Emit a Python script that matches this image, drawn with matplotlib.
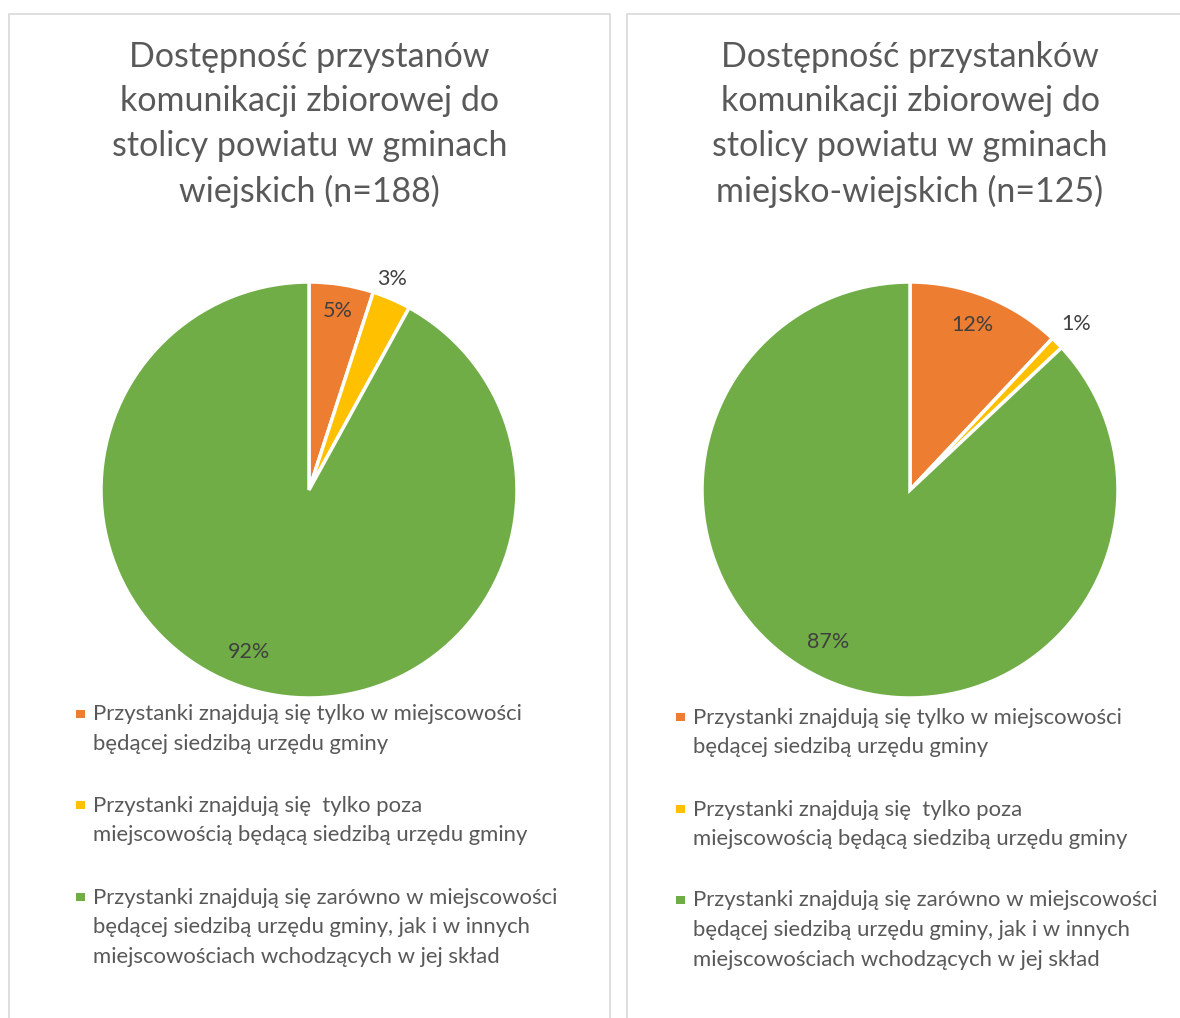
import matplotlib
matplotlib.use("Agg")
import matplotlib.pyplot as plt
from matplotlib.patches import Rectangle
import numpy as np

plt.rcParams['font.family'] = ['Lato', 'DejaVu Sans']

categories = [
    "Przystanki znajdują się tylko w miejscowości\nbędącej siedzibą urzędu gminy",
    "Przystanki znajdują się  tylko poza\nmiejscowością będącą siedzibą urzędu gminy",
    "Przystanki znajdują się zarówno w miejscowości\nbędącej siedzibą urzędu gminy, jak i w innych\nmiejscowościach wchodzących w jej skład",
]
colors = ["#ED7D31", "#FFC000", "#70AD47"]

title_left = "Dostępność przystanów\nkomunikacji zbiorowej do\nstolicy powiatu w gminach\nwiejskich (n=188)"
title_right = "Dostępność przystanków\nkomunikacji zbiorowej do\nstolicy powiatu w gminach\nmiejsko-wiejskich (n=125)"

values_left = [5, 3, 92]
values_right = [12, 1, 87]

labels_left = ["5%", "3%", "92%"]
labels_right = ["12%", "1%", "87%"]

W, H = 1180, 1018
fig = plt.figure(figsize=(W / 100, H / 100), dpi=100)
fig.patch.set_facecolor("white")

def px(x, y):
    return x / W, 1 - y / H

# panel borders
for (x0, x1) in [(9, 610), (627, 1200)]:
    fig.patches.append(Rectangle(px(x0, 1040), (x1 - x0) / W, (1040 - 14) / H,
                                 transform=fig.transFigure, fill=False,
                                 edgecolor="#D9D9D9", linewidth=1.2))

def draw_pie(cx, cy, r, values, labels, dists, offs, title, tx, legend_x, legend_ys):
    ax = fig.add_axes([(cx - r) / W, (H - cy - r) / H, 2 * r / W, 2 * r / H])
    wedges, _ = ax.pie(values, colors=colors, startangle=90, counterclock=False,
                       radius=1.0, wedgeprops=dict(edgecolor="white", linewidth=2.5))
    ax.set_xlim(-1, 1)
    ax.set_ylim(-1, 1)
    ax.set_aspect("auto")
    ax.axis("off")
    for w, lab, d, o in zip(wedges, labels, dists, offs):
        th = np.deg2rad((w.theta1 + w.theta2) / 2 + o)
        ax.text(d * np.cos(th), d * np.sin(th), lab, ha="center", va="center",
                fontsize=15.5, color="#404040")
    fig.text(*px(tx, 124.5), title, ha="center", va="center", fontsize=24.5,
             color="#595959", linespacing=1.48)
    for cat, col, ly in zip(categories, colors, legend_ys):
        fig.patches.append(Rectangle(px(legend_x - 17, ly + 4), 8.5 / W, 8.5 / H,
                                     transform=fig.transFigure, facecolor=col,
                                     edgecolor="none"))
        fig.text(*px(legend_x, ly - 9.5), cat, ha="left", va="top", fontsize=15.9,
                 color="#595959", linespacing=1.6)

draw_pie(309, 490, 208, values_left, labels_left, [0.87, 1.09, 0.83], [0, 2, -6],
         title_left, 309.5, 93, [714, 805, 897])
draw_pie(910, 490, 208, values_right, labels_right, [0.85, 1.13, 0.83], [1, 0, -5],
         title_right, 910, 693, [717, 809, 900])

fig.savefig("out.png", dpi=100, facecolor="white")
